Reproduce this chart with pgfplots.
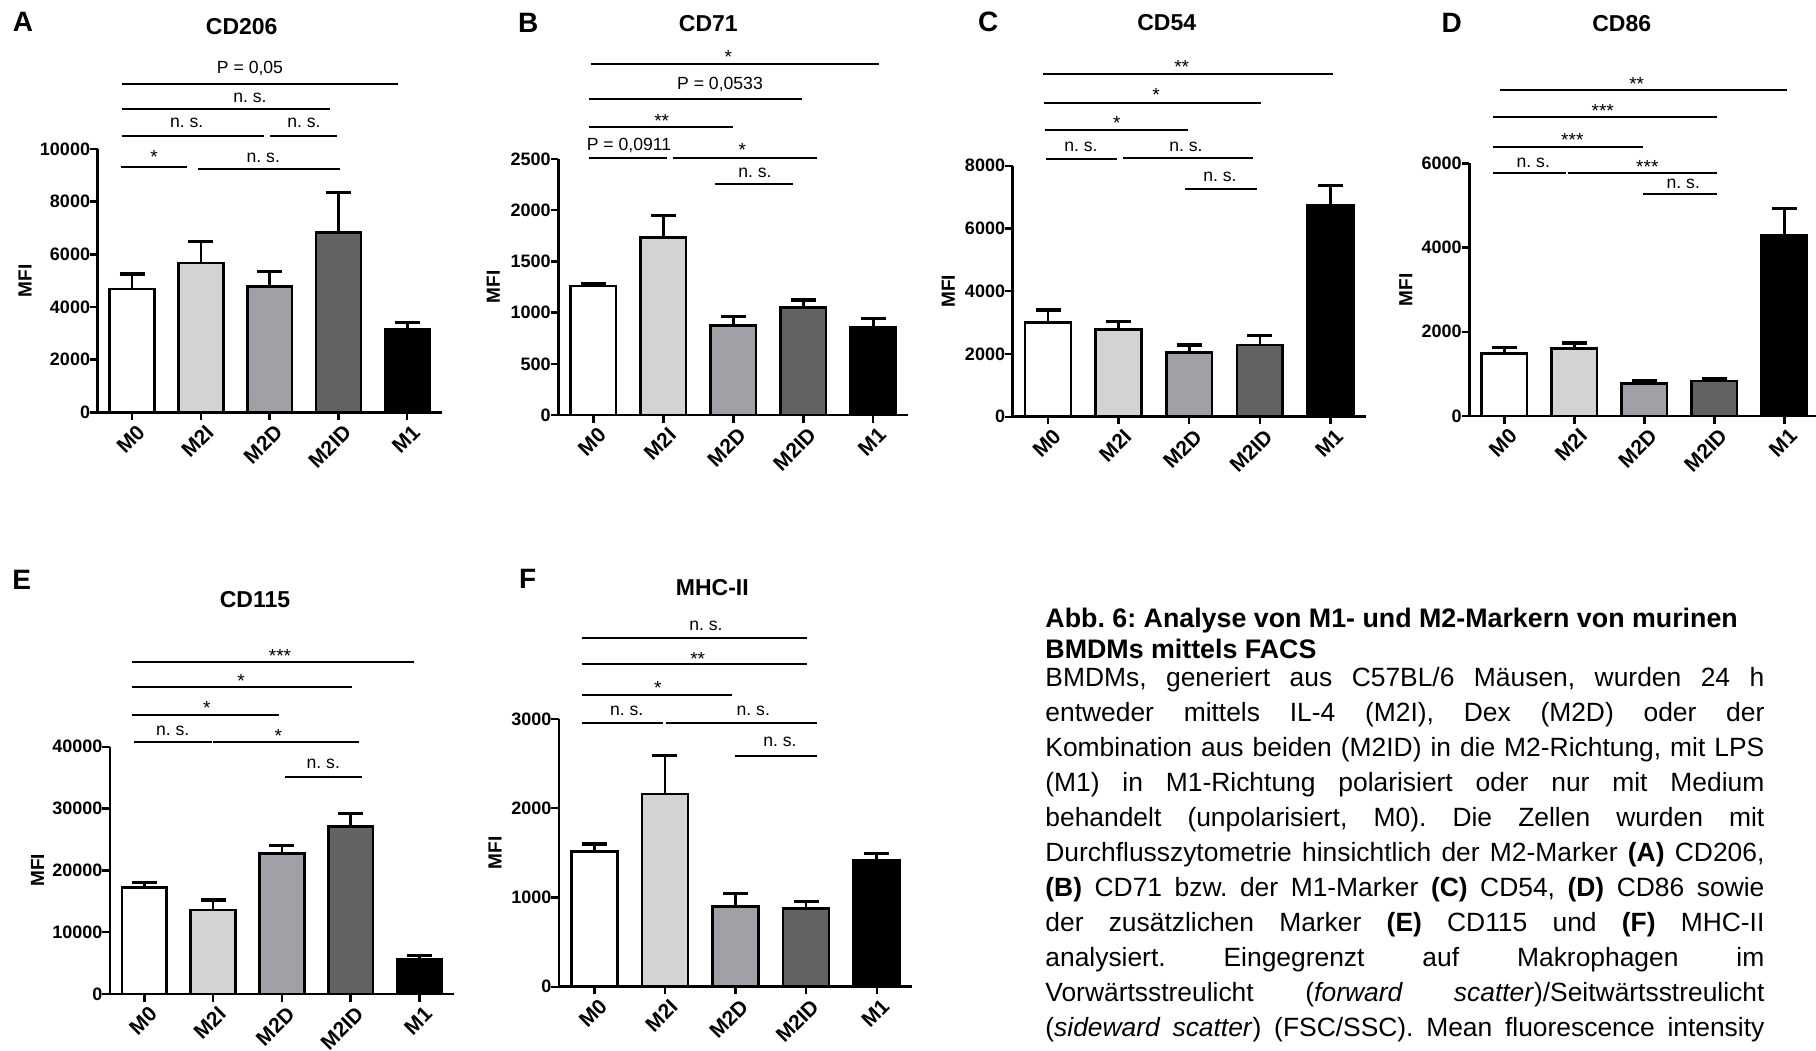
\documentclass[border=0pt]{standalone}
\usepackage{fontspec}
\setmainfont{Liberation Sans}
\usepackage{pgfplots}
\pgfplotsset{compat=1.18}
\frenchspacing
\definecolor{gA}{RGB}{211,211,211}
\definecolor{gB}{RGB}{160,160,166}
\definecolor{gC}{RGB}{98,98,98}

\pgfplotsset{
  mfi/.style={
    scale only axis, anchor=south west, clip=false,
    axis x line*=bottom, axis y line*=left,
    axis line style={-, line width=1.3pt},
    xmin=-0.5, xmax=4.5, ymin=0,
    scaled y ticks=false,
    xtick={0,1,2,3,4}, xticklabels={M0,M2I,M2D,M2ID,M1},
    tick align=outside, major tick length=3.8pt,
    every tick/.style={black, line width=1.2pt},
    x tick label style={rotate=45, anchor=east, inner sep=1pt, xshift=1.2pt, yshift=-6.3pt, font=\bfseries\fontsize{10.5}{11}\selectfont},
    y tick label style={xshift=3.5pt, font=\bfseries\fontsize{9}{10}\selectfont},
    ylabel={MFI},
    ybar,
  },
  mfiy/.style={every axis y label/.style={at={(rel axis cs:0,0.5)}, xshift=#1, rotate=90, anchor=center, font=\bfseries\fontsize{9.5}{10}\selectfont}},
  bb/.style={draw=black, line width=1.3pt, fill=#1, bar width=0.65, bar shift=0pt,
     error bars/.cd, y dir=plus, y explicit,
     error bar style={line width=1.3pt, black},
     error mark options={rotate=90, line width=1.6pt, mark size=6.25pt, black}},
}
\newcommand\bars[5]{%
  \addplot[bb=white] coordinates {#1};
  \addplot[bb=gA] coordinates {#2};
  \addplot[bb=gB] coordinates {#3};
  \addplot[bb=gC] coordinates {#4};
  \addplot[bb=black] coordinates {#5};
}
\newcommand\brk[3]{\draw[line width=0.85pt] (#1,#3) -- (#2,#3);}
\newcommand\lbl[3]{\node[inner sep=0pt, font=\fontsize{8.8}{9}\selectfont] at (#1,#2) {#3};}
\newcommand\sig[3]{\node[inner sep=0pt, font=\fontsize{9.5}{10}\selectfont] at (#1,{#2+4}) {#3};}
\newcommand\pl[3]{\node[inner sep=0pt, font=\bfseries\fontsize{14}{15}\selectfont] at (#1,#2) {#3};}
\newcommand\ttl[3]{\node[inner sep=0pt, font=\bfseries\fontsize{11.5}{12}\selectfont] at (#1,#2) {#3};}
\newcommand\cl[2]{\node[anchor=base west, inner sep=0pt, font=\fontsize{13.2}{15}\selectfont] at (1045,#1) {\makebox[359.5pt][s]{#2}};}

\begin{document}
\begin{tikzpicture}
\path[use as bounding box] (0pt,0pt) rectangle (908pt,-525pt);

% A
\begin{axis}[mfi, mfiy=-36.3pt, at={(48.85pt,-206.15pt)}, width=172pt, height=131.65pt,
  ymax=10000, ytick={0,2000,4000,6000,8000,10000}, yticklabels={0,2000,4000,6000,8000,10000}]
\bars{(0,4684) +- (0,569)}{(1,5671) +- (0,810)}{(2,4772) +- (0,570)}{(3,6823) +- (0,1519)}{(4,3152) +- (0,253)}
\end{axis}
% B
\begin{axis}[mfi, mfiy=-32.5pt, at={(279.15pt,-207.5pt)}, width=175pt, height=128pt,
  ymax=2500, ytick={0,500,1000,1500,2000,2500}, yticklabels={0,500,1000,1500,2000,2500}]
\bars{(0,1260) +- (0,19)}{(1,1735) +- (0,215)}{(2,872) +- (0,88)}{(3,1048) +- (0,75)}{(4,859) +- (0,85)}
\end{axis}
% C
\begin{axis}[mfi, mfiy=-32.2pt, at={(506.35pt,-208.35pt)}, width=176.5pt, height=125.5pt,
  ymax=8000, ytick={0,2000,4000,6000,8000}, yticklabels={0,2000,4000,6000,8000}]
\bars{(0,3007) +- (0,393)}{(1,2783) +- (0,245)}{(2,2050) +- (0,234)}{(3,2284) +- (0,298)}{(4,6746) +- (0,617)}
\end{axis}
% D
\begin{axis}[mfi, mfiy=-31.7pt, at={(734.65pt,-208pt)}, width=175pt, height=126.35pt,
  ymax=6000, ytick={0,2000,4000,6000}, yticklabels={0,2000,4000,6000}]
\bars{(0,1488) +- (0,135)}{(1,1599) +- (0,134)}{(2,768) +- (0,63)}{(3,831) +- (0,48)}{(4,4282) +- (0,649)}
\end{axis}
% E
\begin{axis}[mfi, mfiy=-36.2pt, at={(55pt,-497pt)}, width=171.9pt, height=123.65pt,
  ymax=40000, ytick={0,10000,20000,30000,40000}, yticklabels={0,10000,20000,30000,40000}]
\bars{(0,17251) +- (0,754)}{(1,13585) +- (0,1617)}{(2,22749) +- (0,1240)}{(3,27062) +- (0,2156)}{(4,5606) +- (0,593)}
\end{axis}
% F
\begin{axis}[mfi, mfiy=-32pt, at={(279.5pt,-493.35pt)}, width=176.5pt, height=133.85pt,
  ymax=3000, ytick={0,1000,2000,3000}, yticklabels={0,1000,2000,3000}]
\bars{(0,1513) +- (0,86)}{(1,2159) +- (0,434)}{(2,897) +- (0,149)}{(3,874) +- (0,79)}{(4,1420) +- (0,74)}
\end{axis}

\begin{scope}[x=0.5pt, y=-0.5pt]
% panel letters and titles
\pl{23}{21.7}{A} \ttl{241.7}{26.7}{CD206}
\pl{528.3}{22.7}{B} \ttl{708.3}{24}{CD71}
\pl{988.3}{22}{C} \ttl{1166.7}{22.7}{CD54}
\pl{1451.7}{22.7}{D} \ttl{1621.7}{24}{CD86}
\pl{21.7}{580}{E} \ttl{255}{600}{CD115}
\pl{527.7}{579}{F} \ttl{712.3}{587.7}{MHC-II}
% A
\brk{122.3}{398.3}{84.3} \lbl{250}{68.3}{P = 0,05}
\brk{122.3}{330}{109} \lbl{250}{97.7}{n. s.}
\brk{121.7}{264.3}{136} \lbl{186.7}{123}{n. s.}
\brk{270}{336.7}{136} \lbl{304}{123}{n. s.}
\brk{120.7}{186.7}{167.3} \sig{154}{152.7}{*}
\brk{197.7}{340}{169} \lbl{263.3}{157.7}{n. s.}
% B
\brk{590.7}{879}{64} \sig{728.3}{53.3}{*}
\brk{589.3}{801.7}{99.3} \lbl{720}{84.3}{P = 0,0533}
\brk{589.3}{732.7}{127.3} \sig{661.7}{116.7}{**}
\brk{589.3}{667.3}{158.3} \lbl{629}{145.7}{P = 0,0911}
\brk{673.3}{816.7}{158.3} \sig{742.3}{145.7}{*}
\brk{715}{792.7}{183.7} \lbl{755}{172.7}{n. s.}
% C
\brk{1043.3}{1333.3}{74} \sig{1181.7}{63.3}{**}
\brk{1044}{1260.7}{103.3} \sig{1156}{90.7}{*}
\brk{1045}{1188.3}{130} \sig{1116.7}{119}{*}
\brk{1046}{1117.3}{159} \lbl{1081}{146.7}{n. s.}
\brk{1123.3}{1252.7}{158.3} \lbl{1186}{146.7}{n. s.}
\brk{1185}{1256.7}{189} \lbl{1220}{177.3}{n. s.}
% D
\brk{1500}{1787.3}{90} \sig{1636.7}{80}{**}
\brk{1493.3}{1716.7}{117} \sig{1602.7}{107.3}{***}
\brk{1493.3}{1642.7}{147} \sig{1572.3}{136}{***}
\brk{1493.3}{1565.7}{173} \lbl{1533.3}{163.3}{n. s.}
\brk{1567.7}{1717.3}{173} \sig{1647.3}{163.3}{***}
\brk{1643.3}{1716.7}{194} \lbl{1683.3}{184.3}{n. s.}
% E
\brk{132.3}{414.3}{662} \sig{280}{651.7}{***}
\brk{132.3}{351.7}{686.7} \sig{241}{676.7}{*}
\brk{132.3}{279}{714.7} \sig{206.7}{704}{*}
\brk{134.3}{211.7}{742.3} \lbl{172.7}{731}{n. s.}
\brk{213.3}{359}{742.3} \sig{278.3}{732.3}{*}
\brk{285}{361.7}{776.7} \lbl{323.3}{764}{n. s.}
% F
\brk{581.7}{806.7}{637.7} \lbl{706}{625.7}{n. s.}
\brk{581.7}{806.7}{664.3} \sig{697.7}{655}{**}
\brk{581.7}{732.3}{695} \sig{657.7}{684}{*}
\brk{581.7}{663.3}{723.3} \lbl{626.7}{710.7}{n. s.}
\brk{665.7}{816.7}{723.3} \lbl{753.3}{710.7}{n. s.}
\brk{735}{817.3}{755.7} \lbl{780}{742.3}{n. s.}
% caption
\node[anchor=base west, inner sep=0pt, font=\bfseries\fontsize{13.4}{15}\selectfont] at (1045,627) {Abb. 6: Analyse von M1- und M2-Markern von murinen};
\node[anchor=base west, inner sep=0pt, font=\bfseries\fontsize{13.4}{15}\selectfont] at (1045,658) {BMDMs mittels FACS};
\cl{686.5}{BMDMs, generiert aus C57BL/6 Mäusen, wurden 24 h}
\cl{721.5}{entweder mittels IL-4 (M2I), Dex (M2D) oder der}
\cl{756.5}{Kombination aus beiden (M2ID) in die M2-Richtung, mit LPS}
\cl{791.5}{(M1) in M1-Richtung polarisiert oder nur mit Medium}
\cl{826.5}{behandelt (unpolarisiert, M0). Die Zellen wurden mit}
\cl{861.5}{Durchflusszytometrie hinsichtlich der M2-Marker \textbf{(A)} CD206,}
\cl{896.5}{\textbf{(B)} CD71 bzw. der M1-Marker \textbf{(C)} CD54, \textbf{(D)} CD86 sowie}
\cl{931.5}{der zusätzlichen Marker \textbf{(E)} CD115 und \textbf{(F)} MHC-II}
\cl{966.5}{analysiert. Eingegrenzt auf Makrophagen im}
\cl{1001.5}{Vorwärtsstreulicht (\textit{forward scatter})/Seitwärtsstreulicht}
\cl{1036.5}{(\textit{sideward scatter}) (FSC/SSC). Mean fluorescence intensity}
\end{scope}
\end{tikzpicture}
\end{document}
